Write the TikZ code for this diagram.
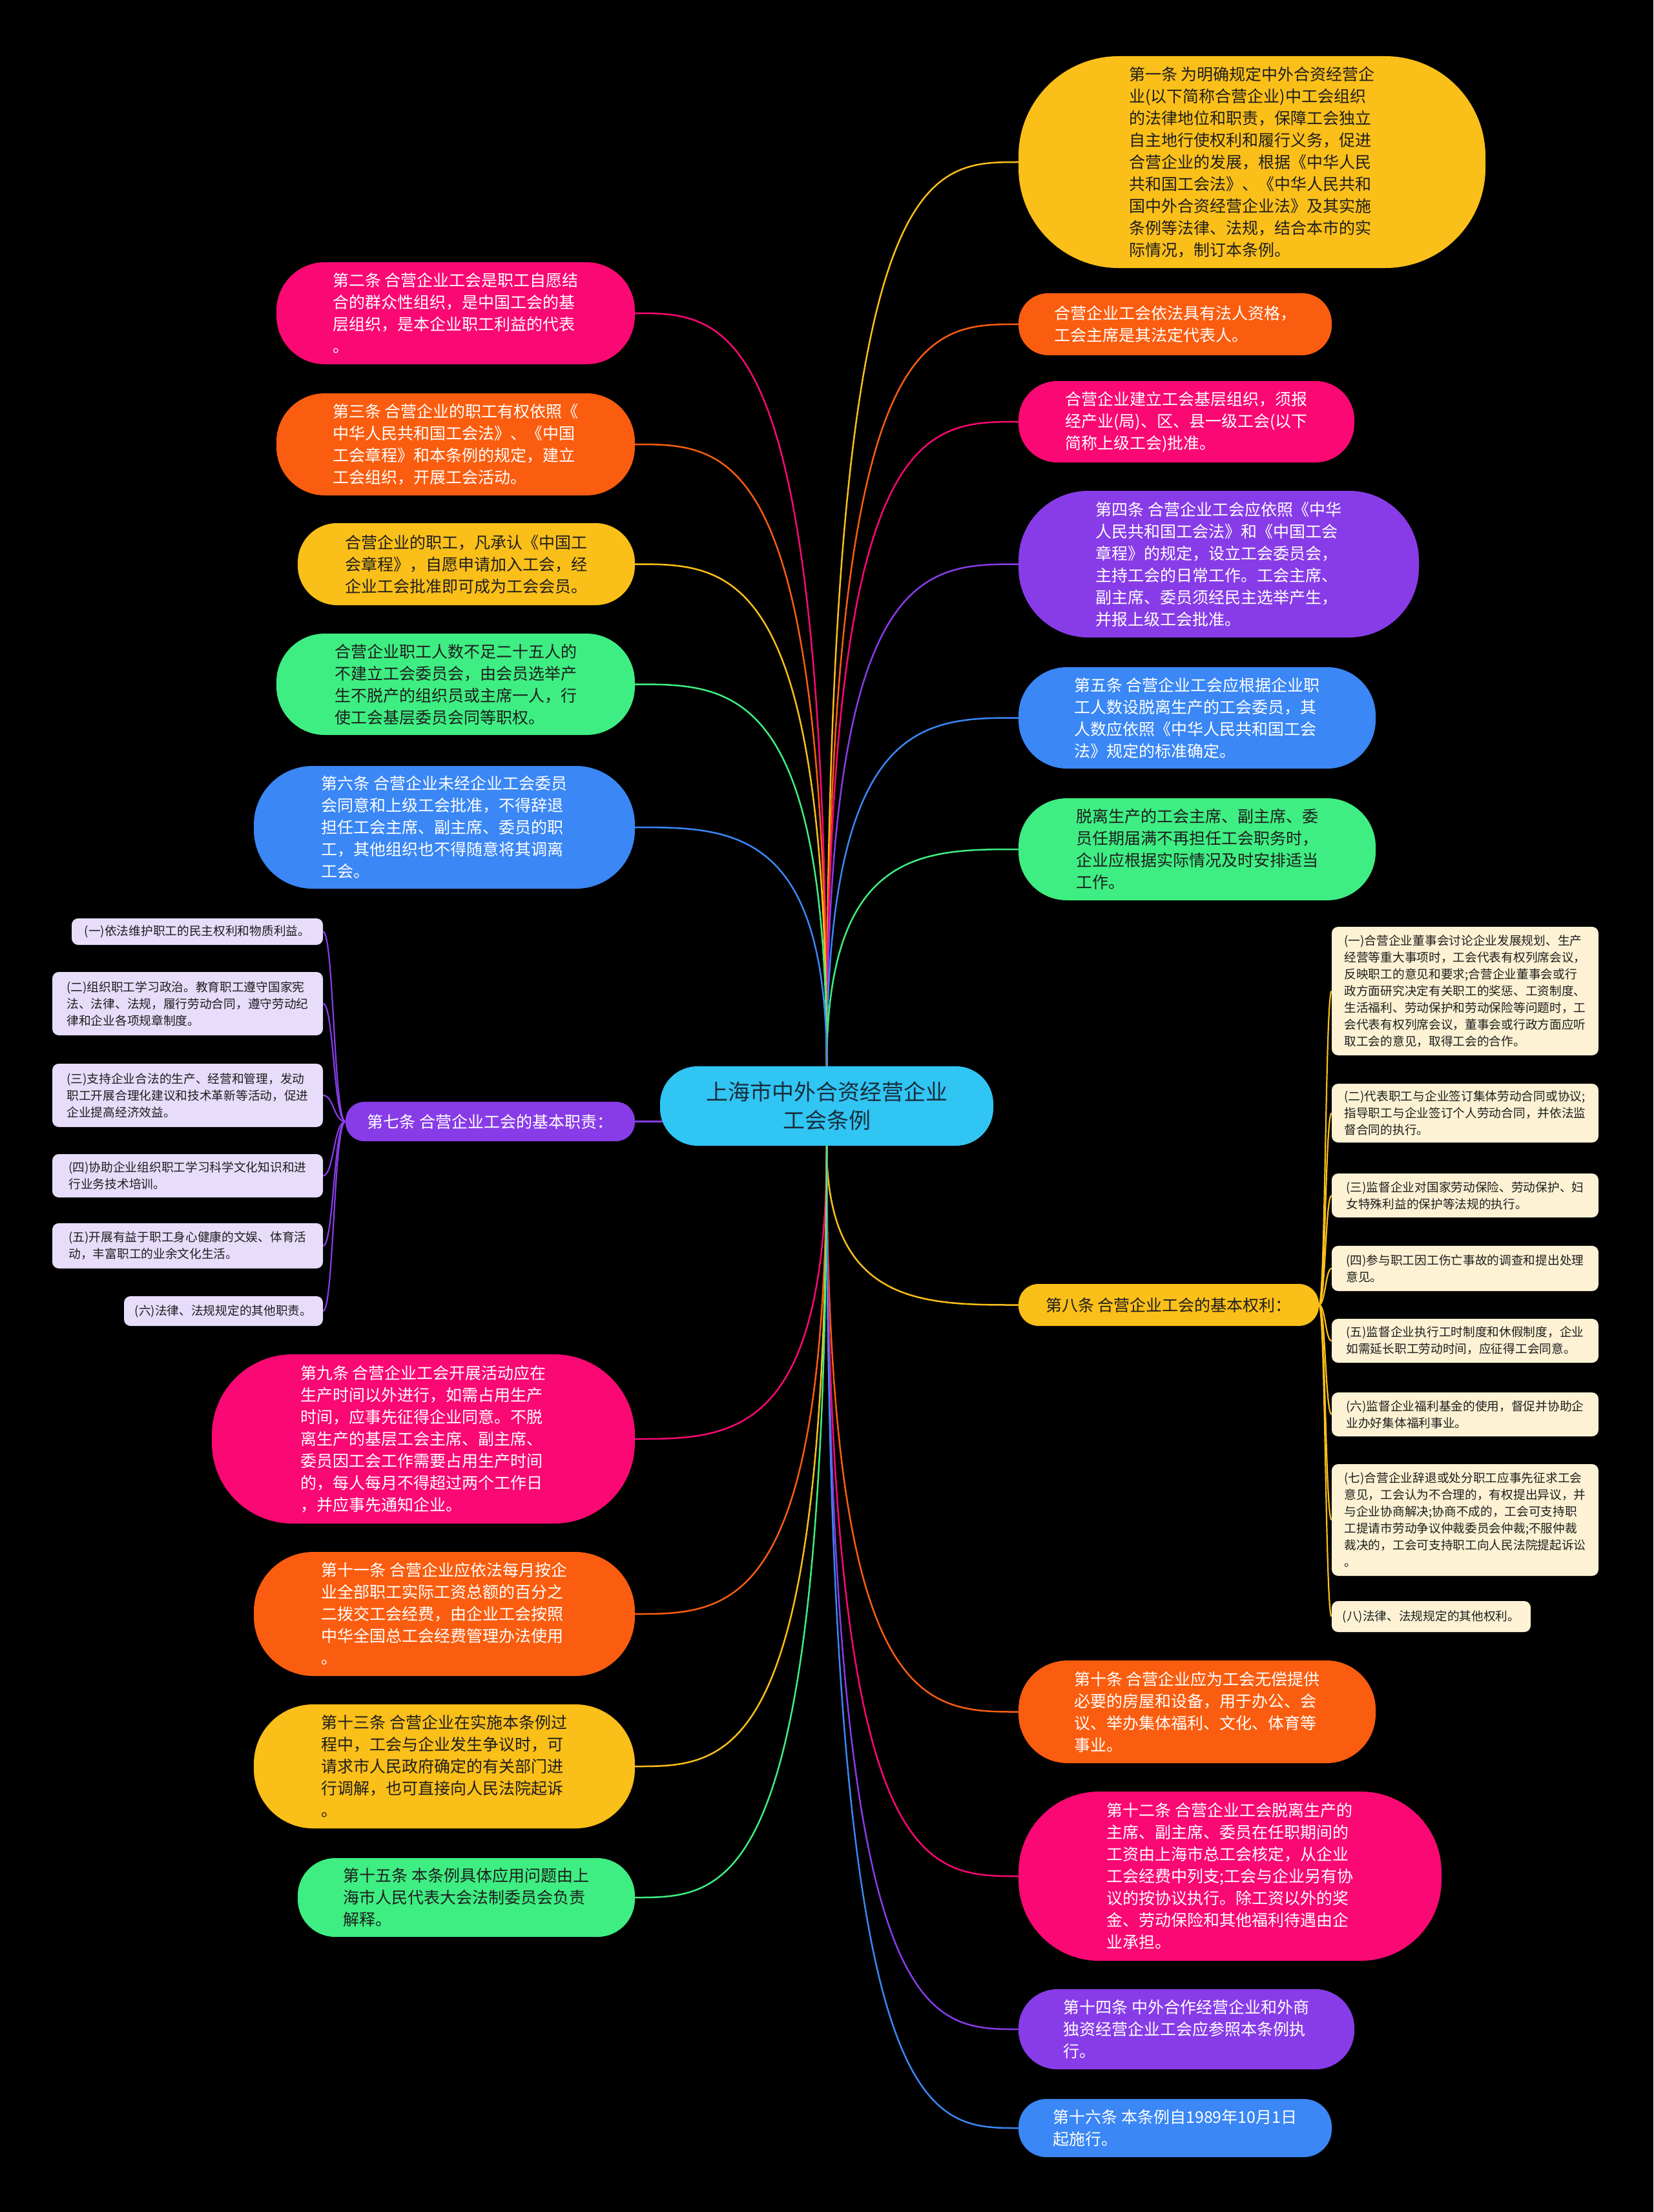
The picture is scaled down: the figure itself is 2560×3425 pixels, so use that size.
\documentclass[tikz,border=0pt]{standalone}
\usepackage{fontspec}
\setmainfont{Noto Sans CJK SC}
\usetikzlibrary{calc}
\definecolor{cY}{RGB}{251,191,25}
\definecolor{cO}{RGB}{250,93,15}
\definecolor{cP}{RGB}{250,8,115}
\definecolor{cV}{RGB}{136,60,232}
\definecolor{cB}{RGB}{58,135,245}
\definecolor{cG}{RGB}{62,238,130}
\definecolor{cC}{RGB}{48,197,243}
\definecolor{cLav}{RGB}{231,221,250}
\definecolor{cCream}{RGB}{253,242,212}
\definecolor{cDark}{RGB}{30,30,30}
\definecolor{cCtext}{RGB}{25,45,60}
\pgfdeclarelayer{bgl}
\pgfsetlayers{bgl,main}
\begin{document}
\begin{tikzpicture}[x=1pt,y=-1pt,
  bn/.style={rectangle, inner sep=0pt, align=left, font=\fontsize{25}{34}\selectfont},
  lt/.style={text=white},
  dk/.style={text=cDark},
  sn/.style={rectangle, inner sep=0pt, align=left, rounded corners=10pt, font=\fontsize{18.7}{26}\selectfont, text=cDark},
  conn/.style={line width=2.5pt},
  sconn/.style={line width=2.2pt}]
\useasboundingbox (0,0) rectangle (2560,3425);
\begin{pgfonlayer}{bgl}
\fill[black] (0,0) rectangle (2560,3425);
\end{pgfonlayer}

% center
\node[rectangle, inner sep=0pt, align=center, fill=cC, text=cCtext, minimum width=516pt, minimum height=123pt, rounded corners=58pt, font=\fontsize{34}{44}\selectfont] (c) at (1280,1712.5) {上海市中外合资经营企业\\工会条例};

% right side
\node[bn, dk, fill=cY, minimum width=723pt, minimum height=328pt, rounded corners=155pt] (R1) at (1938.5,251) {第一条 为明确规定中外合资经营企\\业(以下简称合营企业)中工会组织\\的法律地位和职责，保障工会独立\\自主地行使权利和履行义务，促进\\合营企业的发展，根据《中华人民\\共和国工会法》、《中华人民共和\\国中外合资经营企业法》及其实施\\条例等法律、法规，结合本市的实\\际情况，制订本条例。};
\node[bn, lt, fill=cO, minimum width=485pt, minimum height=96pt, rounded corners=46pt] (R2) at (1819.5,502) {合营企业工会依法具有法人资格，\\工会主席是其法定代表人。};
\node[bn, lt, fill=cP, minimum width=520pt, minimum height=126pt, rounded corners=60pt] (R3) at (1837,653) {合营企业建立工会基层组织，须报\\经产业(局)、区、县一级工会(以下\\简称上级工会)批准。};
\node[bn, lt, fill=cV, minimum width=620pt, minimum height=227pt, rounded corners=108pt] (R4) at (1887,873.5) {第四条 合营企业工会应依照《中华\\人民共和国工会法》和《中国工会\\章程》的规定，设立工会委员会，\\主持工会的日常工作。工会主席、\\副主席、委员须经民主选举产生，\\并报上级工会批准。};
\node[bn, lt, fill=cB, minimum width=553pt, minimum height=157pt, rounded corners=75pt] (R5) at (1853.5,1111.5) {第五条 合营企业工会应根据企业职\\工人数设脱离生产的工会委员，其\\人数应依照《中华人民共和国工会\\法》规定的标准确定。};
\node[bn, dk, fill=cG, minimum width=553pt, minimum height=158pt, rounded corners=75pt] (R6) at (1853.5,1315) {脱离生产的工会主席、副主席、委\\员任期届满不再担任工会职务时，\\企业应根据实际情况及时安排适当\\工作。};
\node[bn, dk, fill=cY, minimum width=465pt, minimum height=65pt, rounded corners=31pt] (R7) at (1809.5,2020.5) {第八条 合营企业工会的基本权利：};
\node[bn, lt, fill=cO, minimum width=553pt, minimum height=159pt, rounded corners=76pt] (R8) at (1853.5,2650.5) {第十条 合营企业应为工会无偿提供\\必要的房屋和设备，用于办公、会\\议、举办集体福利、文化、体育等\\事业。};
\node[bn, lt, fill=cP, minimum width=655pt, minimum height=262pt, rounded corners=125pt] (R9) at (1904.5,2905) {第十二条 合营企业工会脱离生产的\\主席、副主席、委员在任职期间的\\工资由上海市总工会核定，从企业\\工会经费中列支;工会与企业另有协\\议的按协议执行。除工资以外的奖\\金、劳动保险和其他福利待遇由企\\业承担。};
\node[bn, lt, fill=cV, minimum width=520pt, minimum height=124pt, rounded corners=60pt] (R10) at (1837,3142) {第十四条 中外合作经营企业和外商\\独资经营企业工会应参照本条例执\\行。};
\node[bn, lt, fill=cB, minimum width=485pt, minimum height=90pt, rounded corners=43pt] (R11) at (1819.5,3295) {第十六条 本条例自1989年10月1日\\起施行。};

% cream sub nodes
\node[sn, fill=cCream, minimum width=413pt, minimum height=199pt] (T1) at (2268.5,1534.5) {(一)合营企业董事会讨论企业发展规划、生产\\经营等重大事项时，工会代表有权列席会议，\\反映职工的意见和要求;合营企业董事会或行\\政方面研究决定有关职工的奖惩、工资制度、\\生活福利、劳动保护和劳动保险等问题时，工\\会代表有权列席会议，董事会或行政方面应听\\取工会的意见，取得工会的合作。};
\node[sn, fill=cCream, minimum width=413pt, minimum height=91pt] (T2) at (2268.5,1723.5) {(二)代表职工与企业签订集体劳动合同或协议;\\指导职工与企业签订个人劳动合同，并依法监\\督合同的执行。};
\node[sn, fill=cCream, minimum width=413pt, minimum height=68pt] (T3) at (2268.5,1851) {(三)监督企业对国家劳动保险、劳动保护、妇\\女特殊利益的保护等法规的执行。};
\node[sn, fill=cCream, minimum width=413pt, minimum height=70pt] (T4) at (2268.5,1964) {(四)参与职工因工伤亡事故的调查和提出处理\\意见。};
\node[sn, fill=cCream, minimum width=413pt, minimum height=68pt] (T5) at (2268.5,2076) {(五)监督企业执行工时制度和休假制度，企业\\如需延长职工劳动时间，应征得工会同意。};
\node[sn, fill=cCream, minimum width=413pt, minimum height=68pt] (T6) at (2268.5,2190) {(六)监督企业福利基金的使用，督促并协助企\\业办好集体福利事业。};
\node[sn, fill=cCream, minimum width=413pt, minimum height=173pt] (T7) at (2268.5,2353.5) {(七)合营企业辞退或处分职工应事先征求工会\\意见，工会认为不合理的，有权提出异议，并\\与企业协商解决;协商不成的，工会可支持职\\工提请市劳动争议仲裁委员会仲裁;不服仲裁\\裁决的，工会可支持职工向人民法院提起诉讼\\。};
\node[sn, fill=cCream, minimum width=308pt, minimum height=48pt] (T8) at (2216,2503) {(八)法律、法规规定的其他权利。};

% left side
\node[bn, lt, fill=cP, minimum width=555pt, minimum height=158pt, rounded corners=75pt] (L1) at (705.5,485) {第二条 合营企业工会是职工自愿结\\合的群众性组织，是中国工会的基\\层组织，是本企业职工利益的代表\\。};
\node[bn, lt, fill=cO, minimum width=555pt, minimum height=158pt, rounded corners=75pt] (L2) at (705.5,688) {第三条 合营企业的职工有权依照《\\中华人民共和国工会法》、《中国\\工会章程》和本条例的规定，建立\\工会组织，开展工会活动。};
\node[bn, dk, fill=cY, minimum width=522pt, minimum height=127pt, rounded corners=61pt] (L3) at (722,873.5) {合营企业的职工，凡承认《中国工\\会章程》，自愿申请加入工会，经\\企业工会批准即可成为工会会员。};
\node[bn, dk, fill=cG, minimum width=555pt, minimum height=157pt, rounded corners=75pt] (L4) at (705.5,1059.5) {合营企业职工人数不足二十五人的\\不建立工会委员会，由会员选举产\\生不脱产的组织员或主席一人，行\\使工会基层委员会同等职权。};
\node[bn, lt, fill=cB, minimum width=590pt, minimum height=190pt, rounded corners=91pt] (L5) at (688,1281) {第六条 合营企业未经企业工会委员\\会同意和上级工会批准，不得辞退\\担任工会主席、副主席、委员的职\\工，其他组织也不得随意将其调离\\工会。};
\node[bn, lt, fill=cV, minimum width=448pt, minimum height=61pt, rounded corners=29pt] (L6) at (759,1736.5) {第七条 合营企业工会的基本职责：};
\node[bn, lt, fill=cP, minimum width=655pt, minimum height=262pt, rounded corners=125pt] (L7) at (655.5,2228) {第九条 合营企业工会开展活动应在\\生产时间以外进行，如需占用生产\\时间，应事先征得企业同意。不脱\\离生产的基层工会主席、副主席、\\委员因工会工作需要占用生产时间\\的，每人每月不得超过两个工作日\\，并应事先通知企业。};
\node[bn, lt, fill=cO, minimum width=590pt, minimum height=192pt, rounded corners=92pt] (L8) at (688,2499) {第十一条 合营企业应依法每月按企\\业全部职工实际工资总额的百分之\\二拨交工会经费，由企业工会按照\\中华全国总工会经费管理办法使用\\。};
\node[bn, dk, fill=cY, minimum width=590pt, minimum height=192pt, rounded corners=92pt] (L9) at (688,2735) {第十三条 合营企业在实施本条例过\\程中，工会与企业发生争议时，可\\请求市人民政府确定的有关部门进\\行调解，也可直接向人民法院起诉\\。};
\node[bn, dk, fill=cG, minimum width=522pt, minimum height=122pt, rounded corners=58pt] (L10) at (722,2938) {第十五条 本条例具体应用问题由上\\海市人民代表大会法制委员会负责\\解释。};

% lavender sub nodes
\node[sn, fill=cLav, minimum width=389pt, minimum height=41pt] (S1) at (305.5,1442.5) {(一)依法维护职工的民主权利和物质利益。};
\node[sn, fill=cLav, minimum width=419pt, minimum height=98pt] (S2) at (290.5,1554) {(二)组织职工学习政治。教育职工遵守国家宪\\法、法律、法规，履行劳动合同，遵守劳动纪\\律和企业各项规章制度。};
\node[sn, fill=cLav, minimum width=419pt, minimum height=98pt] (S3) at (290.5,1696) {(三)支持企业合法的生产、经营和管理，发动\\职工开展合理化建议和技术革新等活动，促进\\企业提高经济效益。};
\node[sn, fill=cLav, minimum width=419pt, minimum height=67pt] (S4) at (290.5,1820.5) {(四)协助企业组织职工学习科学文化知识和进\\行业务技术培训。};
\node[sn, fill=cLav, minimum width=419pt, minimum height=70pt] (S5) at (290.5,1929) {(五)开展有益于职工身心健康的文娱、体育活\\动，丰富职工的业余文化生活。};
\node[sn, fill=cLav, minimum width=308pt, minimum height=46pt] (S6) at (346,2030) {(六)法律、法规规定的其他职责。};

% connectors
\begin{pgfonlayer}{bgl}
\foreach \n/\col in {R1/cY,R2/cO,R3/cP,R4/cV,R5/cB,R6/cG}
  \draw[conn,\col] (c.north) .. controls (c.north |- \n.west) and ($(c.north |- \n.west)!0.5!(\n.west)$) .. (\n.west);
\foreach \n/\col in {L1/cP,L2/cO,L3/cY,L4/cG,L5/cB}
  \draw[conn,\col] (c.north) .. controls (c.north |- \n.east) and ($(c.north |- \n.east)!0.5!(\n.east)$) .. (\n.east);
\foreach \n/\col in {R7/cY,R8/cO,R9/cP,R10/cV,R11/cB}
  \draw[conn,\col] (c.south) .. controls (c.south |- \n.west) and ($(c.south |- \n.west)!0.5!(\n.west)$) .. (\n.west);
\foreach \n/\col in {L7/cP,L8/cO,L9/cY,L10/cG}
  \draw[conn,\col] (c.south) .. controls (c.south |- \n.east) and ($(c.south |- \n.east)!0.5!(\n.east)$) .. (\n.east);
\draw[conn,cV] (L6.east) -- (c.center |- L6.east);
\foreach \s in {S1,S2,S3,S4,S5,S6}
  \draw[sconn,cV] (L6.west) .. controls ($(L6.west)+(-18,0)$) and ($(L6.west |- \s.east)+(-18,0)$) .. (\s.east);
\foreach \t in {T1,T2,T3,T4,T5,T6,T7,T8}
  \draw[sconn,cY] (R7.east) .. controls ($(R7.east)+(10,0)$) and ($(R7.east |- \t.west)+(10,0)$) .. (\t.west);
\end{pgfonlayer}
\end{tikzpicture}
\end{document}
